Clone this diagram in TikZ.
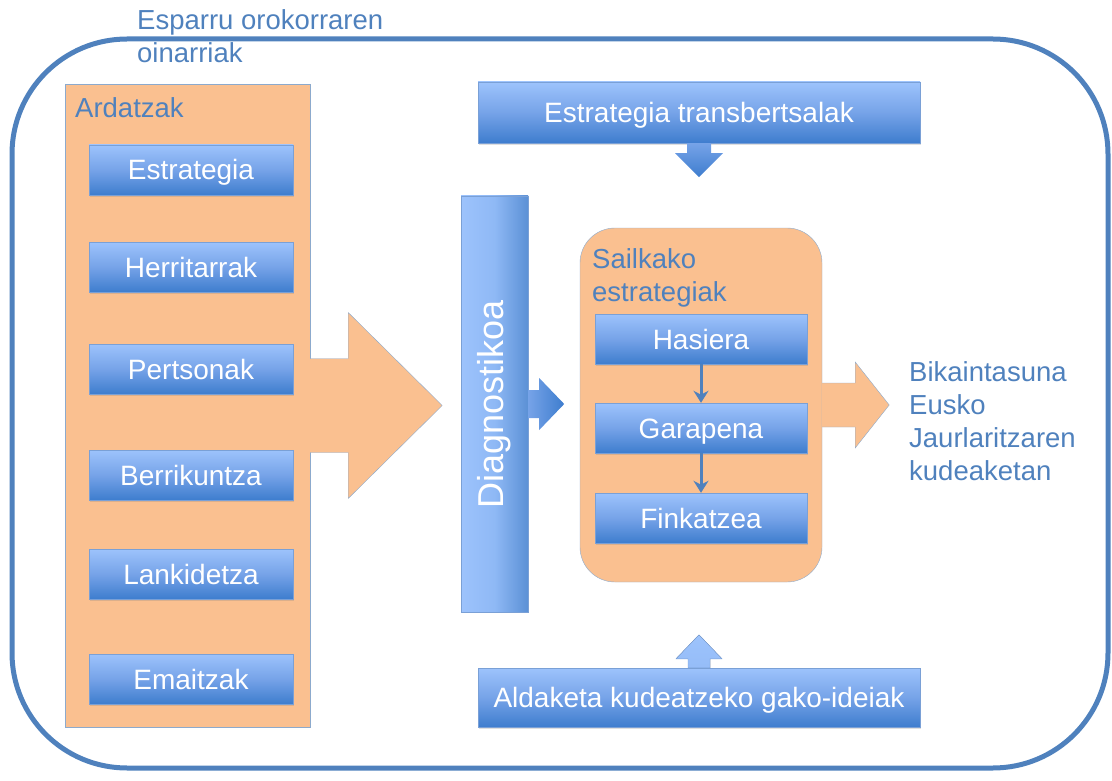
\documentclass[tikz,border=0pt]{standalone}
\usepackage{fontspec}
\setmainfont{Liberation Sans}
\usetikzlibrary{arrows.meta,shadows}
\definecolor{frameblue}{RGB}{79,129,189}
\definecolor{orangefill}{RGB}{250,192,144}
\definecolor{orangeedge}{RGB}{140,170,205}
\definecolor{boxtop}{RGB}{157,195,252}
\definecolor{boxmid}{RGB}{118,163,232}
\definecolor{boxbot}{RGB}{62,125,206}
\definecolor{boxedge}{RGB}{122,160,214}
\begin{document}
\begin{tikzpicture}[x=1pt, y=-1pt,
  frame/.style={draw=frameblue, line width=5pt, rounded corners=115pt, minimum width=1096pt, minimum height=729pt},
  orangebox/.style={draw=orangeedge, fill=orangefill, thin},
  orangearrow/.style={draw=orangeedge, fill=orangefill, thin},
  bluebox/.style={draw=boxedge, thin, top color=boxtop, bottom color=boxbot, middle color=boxmid, text=white, inner sep=0pt, text height=20pt, text depth=0pt, font=\fontsize{28}{32}\selectfont, drop shadow={shadow xshift=1pt, shadow yshift=-2pt, opacity=0.25}},
  axisbox/.style={bluebox, minimum width=204pt, minimum height=50pt},
  stagebox/.style={bluebox, minimum width=212pt, minimum height=50pt},
  widebox/.style={bluebox, minimum width=442pt},
  bluetext/.style={text=frameblue, anchor=north west, inner sep=0pt, align=left, font=\fontsize{27.5}{33}\selectfont},
  steparrow/.style={draw=frameblue, line width=3pt, -{Stealth[length=12pt, width=15pt]}}]
\useasboundingbox (0,0) rectangle (1112,781);
\node[frame] (esparru) at (560,403.5) {};
\node[bluetext] (esparrutxt) at (137,9) {Esparru orokorraren\\oinarriak};

\node[orangebox, minimum width=245pt, minimum height=643pt] (ardatzak) at (187.5,405.5) {};
\node[bluetext] (ardatzaktxt) at (75,97) {Ardatzak};
\node[axisbox] (estrategia) at (191,170) {Estrategia};
\node[axisbox] (herritarrak) at (191,267) {Herritarrak};
\node[axisbox] (pertsonak) at (191,369) {Pertsonak};
\node[axisbox] (berrikuntza) at (191,475) {Berrikuntza};
\node[axisbox] (lankidetza) at (191,574) {Lankidetza};
\node[axisbox] (emaitzak) at (191,679) {Emaitzak};
\filldraw[orangearrow] (ardatzak.east) ++(0,-47) -- ++(38,0) -- ++(0,-46) -- ++(94,93) -- ++(-94,93) -- ++(0,-46) -- ++(-38,0);

\node[draw=boxedge, thin, left color=boxtop, right color=boxbot!85, middle color=boxtop!85!boxbot, minimum width=67pt, minimum height=416pt, inner sep=0pt] (diag) at (494.5,404) {};
\node[rotate=90, text=white, inner sep=0pt, font=\fontsize{36}{40}\selectfont] (diagtxt) at (diag.center) {Diagnostikoa};
\shade[left color=boxmid, right color=boxbot] (diag.east) ++(0,-14) -- ++(11,0) -- ++(0,-12) -- ++(25,26) -- ++(-25,26) -- ++(0,-12) -- ++(-11,0) -- cycle;

\node[widebox, minimum height=61pt] (trans) at (699,112.5) {Estrategia transbertsalak};
\shade[top color=boxmid, bottom color=boxbot] (trans.south) ++(-12,0) -- ++(0,10) -- ++(-12,0) -- ++(24,24) -- ++(24,-24) -- ++(-12,0) -- ++(0,-10) -- cycle;
\node[widebox, minimum height=59pt] (ideiak) at (699,697.5) {Aldaketa kudeatzeko gako-ideiak};
\filldraw[draw=boxedge, thin, top color=boxtop, bottom color=boxtop!80!boxmid] (ideiak.north) ++(-11,0) -- ++(0,-9) -- ++(-12,0) -- ++(23,-24) -- ++(23,24) -- ++(-12,0) -- ++(0,9) -- cycle;

\node[orangebox, rounded corners=35pt, minimum width=242pt, minimum height=354pt] (sailkako) at (701,405) {};
\node[bluetext] (sailkakotxt) at (592,248) {Sailkako\\estrategiak};
\node[stagebox] (hasiera) at (701,339) {Hasiera};
\node[stagebox] (garapena) at (701,428) {Garapena};
\node[stagebox] (finkatzea) at (701,518) {Finkatzea};
\draw[steparrow] (hasiera) -- (garapena);
\draw[steparrow] (garapena) -- (finkatzea);
\filldraw[orangearrow] (sailkako.east) ++(0,-22) -- ++(33,0) -- ++(0,-21) -- ++(34,43) -- ++(-34,43) -- ++(0,-21) -- ++(-33,0);
\node[bluetext] (bikaintasuna) at (909,361) {Bikaintasuna\\Eusko\\Jaurlaritzaren\\kudeaketan};
\end{tikzpicture}
\end{document}
